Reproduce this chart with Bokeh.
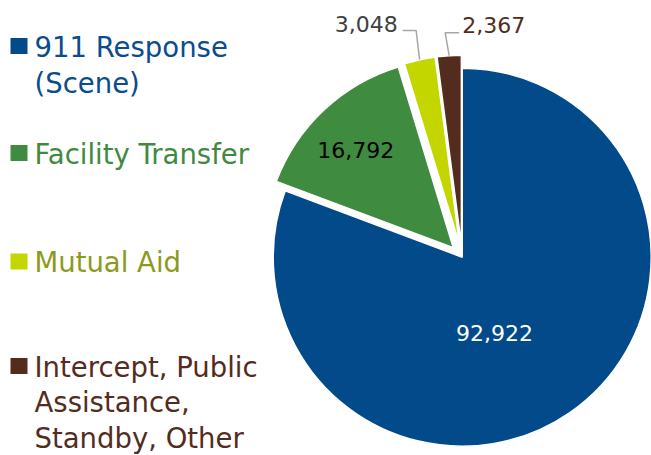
import math
from bokeh.plotting import figure
from bokeh.models import Range1d
from bokeh.core.properties import value
from bokeh.embed import file_html
from bokeh.resources import INLINE

# ---- data ----
categories = ["911 Response (Scene)", "Facility Transfer", "Mutual Aid",
              "Intercept, Public Assistance, Standby, Other"]
counts = [92922, 16792, 3048, 2367]
value_labels = ["92,922", "16,792", "3,048", "2,367"]
legend_lines = [["911 Response", "(Scene)"], ["Facility Transfer"], ["Mutual Aid"],
                ["Intercept, Public", "Assistance,", "Standby, Other"]]

# ---- styles ----
slice_colors = ["#034A8B", "#3F8B40", "#C4D600", "#532C1D"]
legend_text_colors = ["#0B4C8C", "#3F8A3F", "#8C9A1C", "#532C1D"]
label_colors = ["white", "black", "#404040", "#532C1D"]
explode = [0, 13, 13, 13]
FONT = "DejaVu Sans"

W, H = 651, 455
CX, CY, R = 461.7, H - 256.7, 189.0

p = figure(width=W, height=H, x_range=Range1d(0, W), y_range=Range1d(0, H),
           toolbar_location=None, output_backend="svg", min_border=0,
           x_axis_location=None, y_axis_location=None)
p.grid.visible = False
p.outline_line_color = None
p.background_fill_color = "white"

total = float(sum(counts))
cum = 0.0
arc_pts = []
for i, v in enumerate(counts):
    a0 = cum / total * 2 * math.pi
    cum += v
    a1 = cum / total * 2 * math.pi
    mid = math.pi / 2 - (a0 + a1) / 2
    cx = CX + explode[i] * math.cos(mid)
    cy = CY + explode[i] * math.sin(mid)
    p.wedge(x=cx, y=cy, radius=R, start_angle=math.pi / 2 - a0, end_angle=math.pi / 2 - a1,
            direction="clock", fill_color=slice_colors[i], line_color="white", line_width=1.5)
    arc_pts.append((cx + R * math.cos(mid), cy + R * math.sin(mid)))

# inside labels
inside_pos = {0: (494, H - 332.5), 1: (355.3, H - 149)}
for i, (x, y) in inside_pos.items():
    p.text(x=[x], y=[y], text=[value_labels[i]], text_color=label_colors[i],
           text_font=value(FONT), text_font_size="22px", text_align="center",
           text_baseline="middle")

# outside labels with leader lines
ax, ay = arc_pts[2]
ly = H - 30
p.line(x=[ax, ax - 3.5, ax - 17], y=[ay, ly, ly], line_color="#A6A6A6", line_width=1.5)
p.text(x=[ax - 22], y=[H - 23.3], text=[value_labels[2]], text_color=label_colors[2],
       text_font=value(FONT), text_font_size="22px", text_align="right", text_baseline="middle")

ax, ay = arc_pts[3]
ly = H - 32.3
p.line(x=[ax, ax - 4, ax + 10], y=[ay, ly, ly], line_color="#A6A6A6", line_width=1.5)
p.text(x=[ax + 13], y=[H - 24], text=[value_labels[3]], text_color=label_colors[3],
       text_font=value(FONT), text_font_size="22px", text_align="left", text_baseline="middle")

# legend
first_baselines = [56, 163, 271.5, 376]
line_heights = [36, 36, 36, 35.5]
for i, lines in enumerate(legend_lines):
    b = first_baselines[i]
    p.rect(x=[18.5], y=[H - (b - 10.5)], width=17, height=16,
           fill_color=slice_colors[i], line_color=None)
    for k, t in enumerate(lines):
        p.text(x=[34], y=[H - (b - 9.8 + k * line_heights[i])], text=[t],
               text_color=legend_text_colors[i], text_font=value(FONT),
               text_font_size="27.5px", text_align="left", text_baseline="middle")

open("out.html", "w").write(file_html(p, INLINE))
